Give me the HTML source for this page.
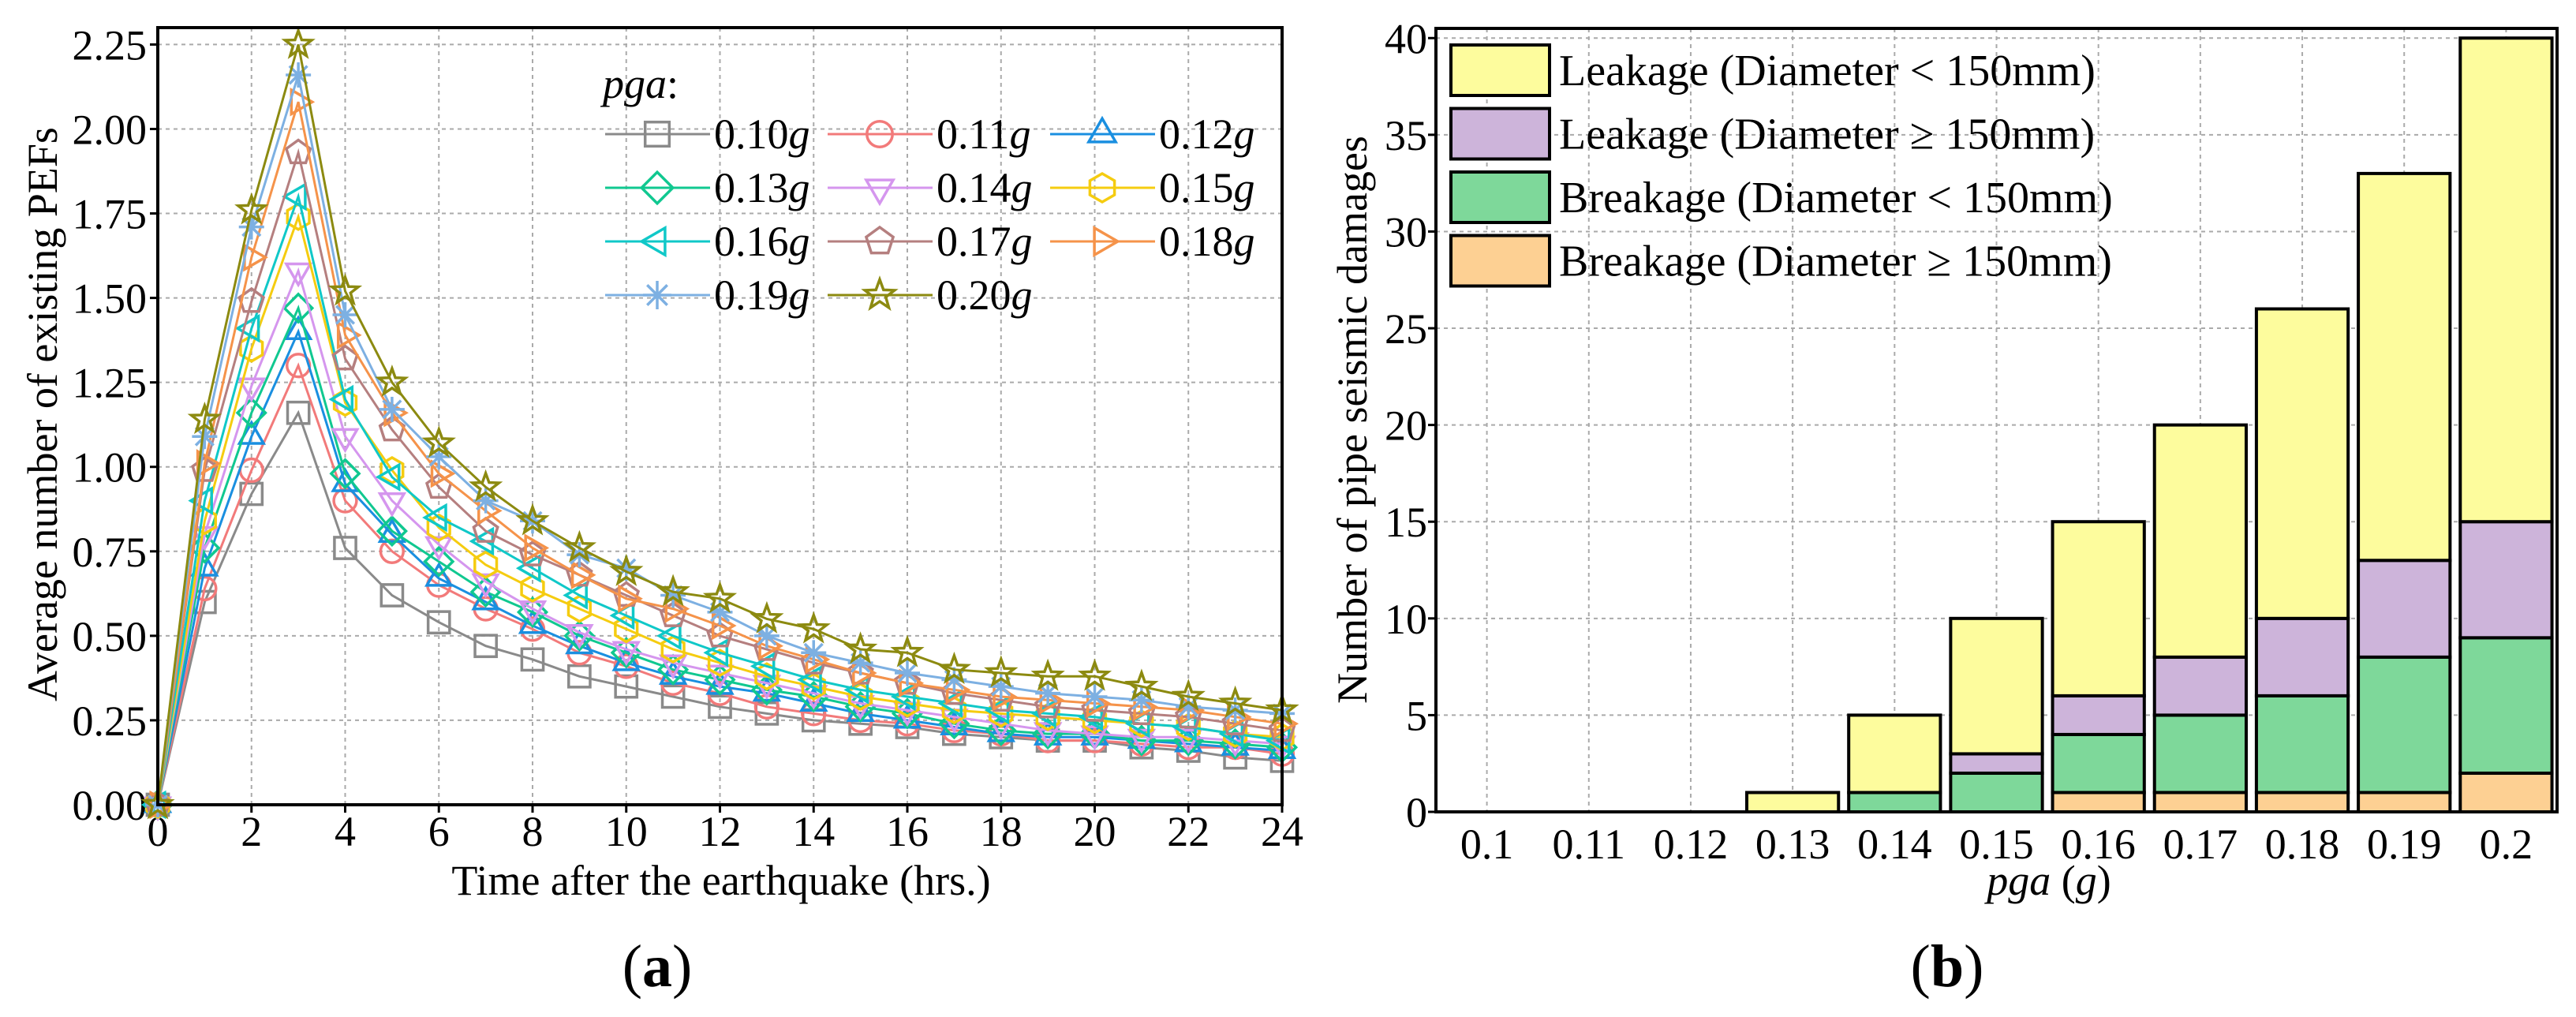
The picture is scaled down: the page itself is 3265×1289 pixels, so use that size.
<!DOCTYPE html>
<html><head><meta charset="utf-8"><style>
html,body{margin:0;padding:0;background:#fff;}
svg, svg text{font-family:"Liberation Serif","Times New Roman","DejaVu Serif",serif;}
</style></head><body>
<svg id="fig" width="3265" height="1284" viewBox="0 0 3265 1284" xmlns="http://www.w3.org/2000/svg" font-family="Liberation Serif, Times New Roman, DejaVu Serif, serif">
<g id="chartA"></g>
<g id="chartB"></g>
<text x="833" y="1250" font-size="76" text-anchor="middle">(<tspan font-weight="bold">a</tspan>)</text>
<text x="2468" y="1250" font-size="76" text-anchor="middle">(<tspan font-weight="bold">b</tspan>)</text>
</svg>
<script>
// ---------- Chart A data ----------
const hours = [0,1,2,3,4,5,6,7,8,9,10,11,12,13,14,15,16,17,18,19,20,21,22,23,24];
const pgaLabels = ["0.10","0.11","0.12","0.13","0.14","0.15","0.16","0.17","0.18","0.19","0.20"];
const s010 = [0,0.60,0.92,1.16,0.76,0.62,0.54,0.47,0.43,0.38,0.35,0.32,0.29,0.27,0.25,0.24,0.23,0.21,0.20,0.19,0.19,0.17,0.16,0.14,0.13];
const s011 = [0,0.64,0.99,1.30,0.90,0.75,0.65,0.58,0.52,0.45,0.41,0.36,0.33,0.29,0.27,0.25,0.24,0.22,0.21,0.19,0.19,0.18,0.17,0.17,0.15];
const s012 = [0,0.70,1.09,1.40,0.95,0.80,0.67,0.60,0.53,0.47,0.42,0.38,0.35,0.33,0.30,0.27,0.25,0.23,0.21,0.20,0.20,0.19,0.18,0.17,0.16];
const s013 = [0,0.76,1.16,1.47,0.98,0.81,0.72,0.63,0.57,0.50,0.45,0.40,0.37,0.34,0.32,0.29,0.27,0.24,0.22,0.21,0.21,0.19,0.19,0.18,0.17];
const s014 = [0,0.80,1.24,1.58,1.09,0.90,0.77,0.66,0.58,0.51,0.46,0.42,0.39,0.36,0.33,0.30,0.28,0.26,0.24,0.22,0.21,0.20,0.20,0.19,0.18];
const s015 = [0,0.84,1.35,1.74,1.19,0.99,0.82,0.71,0.64,0.58,0.52,0.46,0.42,0.38,0.35,0.32,0.30,0.28,0.27,0.26,0.25,0.24,0.23,0.21,0.20];
const s016 = [0,0.90,1.41,1.80,1.20,0.97,0.85,0.78,0.70,0.62,0.56,0.50,0.45,0.41,0.37,0.34,0.32,0.30,0.28,0.27,0.26,0.24,0.23,0.21,0.19];
const s017 = [0,0.99,1.49,1.93,1.32,1.11,0.94,0.81,0.74,0.68,0.62,0.56,0.50,0.46,0.42,0.39,0.36,0.33,0.31,0.29,0.28,0.27,0.26,0.24,0.22];
const s018 = [0,1.01,1.62,2.08,1.39,1.16,0.98,0.87,0.76,0.68,0.61,0.58,0.53,0.47,0.43,0.39,0.36,0.34,0.32,0.31,0.30,0.29,0.28,0.26,0.24];
const s019 = [0,1.09,1.71,2.16,1.45,1.17,1.03,0.90,0.84,0.74,0.70,0.62,0.57,0.50,0.45,0.42,0.39,0.37,0.35,0.33,0.32,0.31,0.29,0.28,0.27];
const s020 = [0,1.14,1.76,2.25,1.52,1.25,1.07,0.94,0.84,0.76,0.69,0.63,0.61,0.55,0.52,0.46,0.45,0.40,0.39,0.38,0.38,0.35,0.32,0.30,0.28];
const yTicksA = [0,0.25,0.5,0.75,1.0,1.25,1.5,1.75,2.0,2.25];
const xTicksA = [0,2,4,6,8,10,12,14,16,18,20,22,24];

// ---------- Chart B data ----------
const cats = ["0.1","0.11","0.12","0.13","0.14","0.15","0.16","0.17","0.18","0.19","0.2"];
const breakGE = [0,0,0,0,0,0,1,1,1,1,2];
const breakLT = [0,0,0,0,1,2,3,4,5,7,7];
const leakGE  = [0,0,0,0,0,1,2,3,4,5,6];
const leakLT  = [0,0,0,1,4,7,9,12,16,20,25];
const yTicksB = [0,5,10,15,20,25,30,35,40];

const NS="http://www.w3.org/2000/svg";
const FF="Liberation Serif, Times New Roman, DejaVu Serif, serif";
function mk(parent,tag,attrs,text){const e=document.createElementNS(NS,tag);for(const k in attrs)e.setAttribute(k,attrs[k]);if(tag==='text')e.setAttribute('font-family',FF);if(text!==undefined)e.textContent=text;parent.appendChild(e);return e;}

// ===== Chart A =====
(function(){
const g=document.getElementById('chartA');
const L=200,R=1625,T=35,B=1020,ymax=2.3;
const X=v=>L+(v-0)/24*(R-L);
const Y=v=>B-v/ymax*(B-T);
const grid=mk(g,'g',{});


yTicksA.forEach(v=>{if(v>0)mk(grid,'line',{x1:L,x2:R,y1:Y(v),y2:Y(v),stroke:'#aaa','stroke-width':2,'stroke-dasharray':'5,5'});});
xTicksA.forEach(v=>{if(v>0&&v<24)mk(grid,'line',{x1:X(v),x2:X(v),y1:T,y2:B,stroke:'#aaa','stroke-width':2,'stroke-dasharray':'5,5'});});
yTicksA.forEach(v=>{
 const t=mk(g,'text',{x:186,y:Y(v)+19,'font-size':54,'text-anchor':'end'},v.toFixed(2));
 
 
 mk(g,'line',{x1:L,x2:L-10,y1:Y(v),y2:Y(v),stroke:'#000','stroke-width':3});
});
xTicksA.forEach(v=>{
 const t=mk(g,'text',{x:X(v),y:1072,'font-size':54,'text-anchor':'middle'},String(v));
 
 
 mk(g,'line',{x1:X(v),x2:X(v),y1:B,y2:B+10,stroke:'#000','stroke-width':3});
});
const colors=['#8a8a8a','#f27a7a','#1a8fe0','#10c890','#d596ee','#f5cc10','#10c8c8','#b57f7f','#f5934a','#7db0e2','#8c8a10'];
const shapes=['square','circle','up','diamond','down','hex','left','pent','right','aster','star'];
const series=[s010,s011,s012,s013,s014,s015,s016,s017,s018,s019,s020];
function marker(p,shape,cx,cy,c,r){
 const st={fill:'none',stroke:c,'stroke-width':3.5};
 const poly=pts=>mk(p,'polygon',Object.assign({points:pts.map(q=>(cx+q[0]).toFixed(1)+','+(cy+q[1]).toFixed(1)).join(' ')},st));
 const reg=(n,rot,rr)=>{const a=[];for(let i=0;i<n;i++){const t=rot+i*2*Math.PI/n;a.push([rr*Math.cos(t),rr*Math.sin(t)]);}return a;};
 switch(shape){
  case 'square':return mk(p,'rect',Object.assign({x:cx-r*0.85,y:cy-r*0.85,width:r*1.7,height:r*1.7},st));
  case 'circle':return mk(p,'circle',Object.assign({cx:cx,cy:cy,r:r*0.9},st));
  case 'up':return poly(reg(3,-Math.PI/2,r*1.1));
  case 'down':return poly(reg(3,Math.PI/2,r*1.1));
  case 'left':return poly(reg(3,Math.PI,r*1.1));
  case 'right':return poly(reg(3,0,r*1.1));
  case 'diamond':return poly(reg(4,-Math.PI/2,r*1.1));
  case 'hex':return poly(reg(6,-Math.PI/2,r));
  case 'pent':return poly(reg(5,-Math.PI/2,r));
  case 'star':{const a=[];for(let i=0;i<10;i++){const t=-Math.PI/2+i*Math.PI/5;const rr=i%2?r*0.45:r*1.1;a.push([rr*Math.cos(t),rr*Math.sin(t)]);}return poly(a);}
  case 'aster':{const gg=mk(p,'g',{});for(let i=0;i<4;i++){const t=i*Math.PI/4;mk(gg,'line',{x1:cx-r*Math.cos(t),y1:cy-r*Math.sin(t),x2:cx+r*Math.cos(t),y2:cy+r*Math.sin(t),stroke:c,'stroke-width':3.5});}return gg;}
 }
}
series.forEach((s,i)=>{
 const sg=mk(g,'g',{});
 
 
 mk(sg,'polyline',{points:hours.map((h,j)=>X(h).toFixed(1)+','+Y(s[j]).toFixed(1)).join(' '),fill:'none',stroke:colors[i],'stroke-width':3});
 hours.forEach((h,j)=>marker(sg,shapes[i],X(h),Y(s[j]),colors[i],16));
});
mk(g,'rect',{x:L,y:T,width:R-L,height:B-T,fill:'none',stroke:'#000','stroke-width':4});
// legend
const lg=mk(g,'g',{});


const lt=mk(lg,'text',{x:764,y:124,'font-size':54});
mk(lt,'tspan',{'font-style':'italic'},'pga');
mk(lt,'tspan',{},':');
pgaLabels.forEach((lab,i)=>{
 const col=i%3,row=Math.floor(i/3);
 const x0=767+col*282,y0=170+row*68;
 const e=mk(lg,'g',{});
 
 
 mk(e,'line',{x1:x0,x2:x0+133,y1:y0,y2:y0,stroke:colors[i],'stroke-width':3});
 marker(e,shapes[i],x0+66,y0,colors[i],18);
 const t=mk(e,'text',{x:x0+138,y:y0+18,'font-size':54},lab);
 mk(t,'tspan',{'font-style':'italic'},'g');
});
const yt=mk(g,'text',{x:0,y:0,'font-size':54,'text-anchor':'middle',transform:'translate(72,525) rotate(-90)'},'Average number of existing PEFs');


const xt=mk(g,'text',{x:914,y:1134,'font-size':54,'text-anchor':'middle'},'Time after the earthquake (hrs.)');


})();

// ===== Chart B =====
(function(){
const g=document.getElementById('chartB');
const L=1820,R=3241,T=36,B=1029,ymax=40.5;
const band=(R-L)/cats.length;
const Xc=i=>L+band*(i+0.5);
const Y=v=>B-v/ymax*(B-T);
const grid=mk(g,'g',{});


yTicksB.forEach(v=>{if(v>0)mk(grid,'line',{x1:L,x2:R,y1:Y(v),y2:Y(v),stroke:'#aaa','stroke-width':2,'stroke-dasharray':'5,5'});});
cats.forEach((c,i)=>mk(grid,'line',{x1:Xc(i),x2:Xc(i),y1:T,y2:B,stroke:'#aaa','stroke-width':2,'stroke-dasharray':'5,5'}));
yTicksB.forEach(v=>{
 const t=mk(g,'text',{x:1809,y:Y(v)+19,'font-size':54,'text-anchor':'end'},String(v));
 
 
 mk(g,'line',{x1:L,x2:L-10,y1:Y(v),y2:Y(v),stroke:'#000','stroke-width':3});
});
cats.forEach((c,i)=>{
 const t=mk(g,'text',{x:Xc(i),y:1088,'font-size':54,'text-anchor':'middle'},c);
 
 
});
const stacks=[breakGE,breakLT,leakGE,leakLT];
const fills=['#fdd093','#7ed89a','#cdb4da','#fdfc9d'];
const names=['breakage-ge150','breakage-lt150','leakage-ge150','leakage-lt150'];
const bw=band*0.9;
cats.forEach((c,i)=>{
 let acc=0;
 stacks.forEach((s,k)=>{
  const v=s[i]; if(v<=0)return;
  const r=mk(g,'rect',{x:Xc(i)-bw/2,y:Y(acc+v),width:bw,height:Y(acc)-Y(acc+v),fill:fills[k],stroke:'#000','stroke-width':4});
  
  
  acc+=v;
 });
});
mk(g,'rect',{x:L,y:T,width:R-L,height:B-T,fill:'none',stroke:'#000','stroke-width':4});
const lg=mk(g,'g',{});


const labs=['Leakage (Diameter < 150mm)','Leakage (Diameter ≥ 150mm)','Breakage (Diameter < 150mm)','Breakage (Diameter ≥ 150mm)'];
const lf=[fills[3],fills[2],fills[1],fills[0]];
labs.forEach((lab,i)=>{
 const y0=89+i*80.5;
 const e=mk(lg,'g',{});
 
 
 mk(e,'rect',{x:1839,y:y0-32,width:125,height:64,fill:lf[i],stroke:'#000','stroke-width':4});
 mk(e,'text',{x:1976,y:y0+19,'font-size':56},lab);
});
const yt=mk(g,'text',{x:0,y:0,'font-size':54,'text-anchor':'middle',transform:'translate(1732,532) rotate(-90)'},'Number of pipe seismic damages');


const xt=mk(g,'text',{x:2597,y:1134,'font-size':54,'text-anchor':'middle'});


mk(xt,'tspan',{'font-style':'italic'},'pga');
mk(xt,'tspan',{},' (');
mk(xt,'tspan',{'font-style':'italic'},'g');
mk(xt,'tspan',{},')');
})();
</script>
</body></html>
